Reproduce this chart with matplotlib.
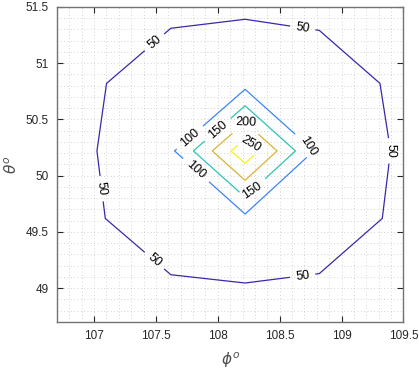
import numpy as np
import matplotlib
matplotlib.use("Agg")
import matplotlib.pyplot as plt
from matplotlib.ticker import MultipleLocator

# grid of phi (x) and theta (y) values
phi = [106.42, 107.02, 107.62, 108.22, 108.82, 109.42, 110.02]
theta = [48.42, 49.02, 49.62, 50.22, 50.82, 51.42, 52.02]

# values, rows follow theta (ascending), columns follow phi (ascending)
row_4842 = [20, 20, 20, 20, 20, 20, 20]
row_4902 = [20, 35, 46.0, 48.3, 45.5, 35, 20]
row_4962 = [20, 47.35, 70, 87, 70, 46.4, 20]
row_5022 = [20, 49.8, 90.2, 287, 85, 48.5, 20]
row_5082 = [20, 46.9, 70, 82, 70, 45.5, 20]
row_5142 = [20, 35, 45.5, 48.3, 44.5, 35, 20]
row_5202 = [20, 20, 20, 20, 20, 20, 20]

levels = [50, 100, 150, 200, 250]
level_colors = ['#3e26a8', '#3c86f2', '#2ec4b6', '#d9b434', '#f5f514']

xticks = [107, 107.5, 108, 108.5, 109, 109.5]
yticks = [49, 49.5, 50, 50.5, 51, 51.5]

Z = np.array([row_4842, row_4902, row_4962, row_5022, row_5082, row_5142, row_5202])
X, Y = np.meshgrid(phi, theta)

plt.rcParams['font.family'] = ['Liberation Sans', 'DejaVu Sans']

fig = plt.figure(figsize=(4.19, 3.69), dpi=100)
ax = fig.add_axes([0.136, 0.1274, 0.827, 0.854])

cs = ax.contour(X, Y, Z, levels=levels, colors=level_colors, linewidths=0.9)

label_pos = [
    (107.485, 51.188), (108.685, 51.307), (109.40, 50.222), (107.043, 49.882),
    (107.477, 49.232), (108.685, 49.108),
    (107.78, 50.33), (107.82, 50.044), (108.717, 50.252),
    (107.994, 50.414), (108.28, 49.867),
    (108.222, 50.47), (108.25, 50.266),
]
ax.clabel(cs, levels, inline=True, fmt='%d', fontsize=9, colors='black',
          manual=label_pos, inline_spacing=3)

ax.set_xlim(106.7, 109.5)
ax.set_ylim(48.7, 51.5)
ax.set_xticks(xticks)
ax.set_xticklabels(['107', '107.5', '108', '108.5', '109', '109.5'])
ax.set_yticks(yticks)
ax.set_yticklabels(['49', '49.5', '50', '50.5', '51', '51.5'])
ax.xaxis.set_minor_locator(MultipleLocator(0.1))
ax.yaxis.set_minor_locator(MultipleLocator(0.1))
ax.tick_params(which='major', direction='in', top=True, right=True, length=4,
               width=0.8, labelsize=8.5, colors='0.15', pad=6)
ax.tick_params(which='minor', length=0, top=True, right=True)
ax.grid(True, which='both', linestyle=(0, (1, 3)), color='0.78', linewidth=0.6)
ax.set_axisbelow(True)
for s in ax.spines.values():
    s.set_color('0.45')
    s.set_linewidth(1.0)

ax.set_xlabel(r'$\phi^o$', fontsize=11, color='0.3', labelpad=6)
ax.set_ylabel(r'$\theta^o$', fontsize=11, color='0.3', labelpad=4)

fig.savefig('out.png', dpi=100)
